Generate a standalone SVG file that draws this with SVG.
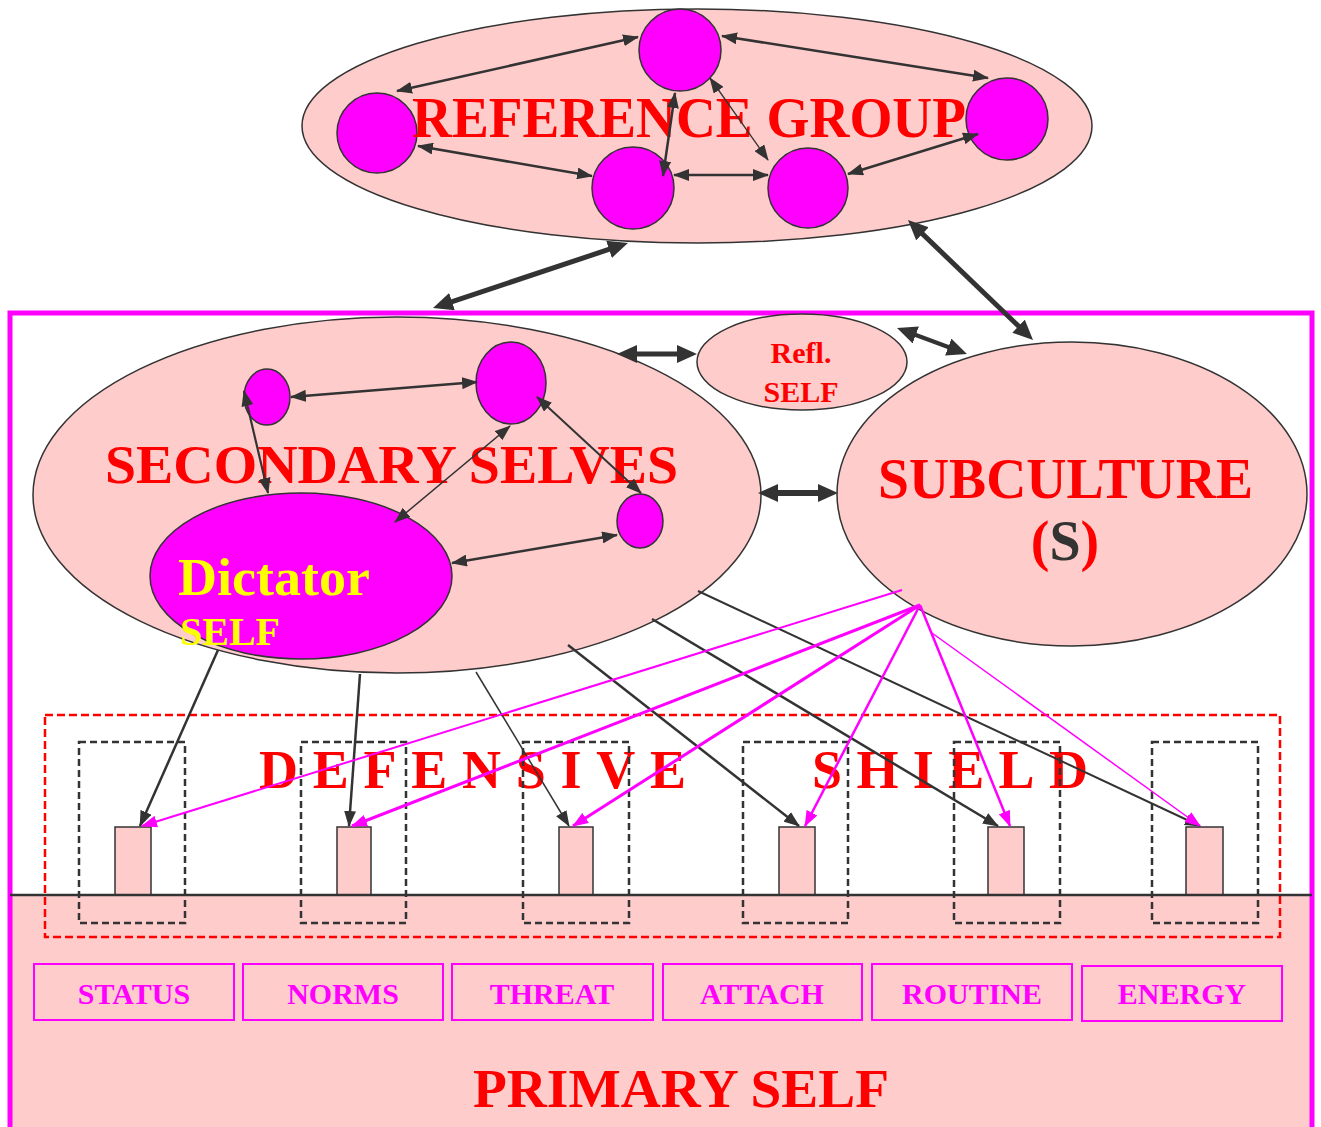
<svg xmlns="http://www.w3.org/2000/svg" width="1321" height="1127" viewBox="0 0 1321 1127">
<style>
.pk{fill:#ffcccc;stroke:#333;stroke-width:1.5}
.mg{fill:#ff00ff;stroke:#333;stroke-width:1.5}
.t{font-family:"Liberation Serif","Times New Roman",serif;font-weight:bold}
.red{fill:#ff0000}
.yel{fill:#ffff00}
.lab{fill:#ff00ff;font-size:30px;text-anchor:middle}
.ln{stroke:#333;fill:none}
.mln{stroke:#ff00ff;fill:none}
.dbl{marker-start:url(#ah);marker-end:url(#ah)}
.thk{marker-start:url(#ahT);marker-end:url(#ahT)}
.box{fill:none;stroke:#333;stroke-width:2.5;stroke-dasharray:7 4}
.lbox{fill:none;stroke:#ff00ff;stroke-width:2}
</style>
<defs>
<marker id="ah" markerUnits="userSpaceOnUse" markerWidth="16" markerHeight="12" refX="15" refY="6" orient="auto-start-reverse"><path d="M0,0 L16,6 L0,12 z" fill="#333"/></marker>
<marker id="ahT" markerUnits="userSpaceOnUse" markerWidth="20" markerHeight="18" refX="10" refY="9" orient="auto-start-reverse"><path d="M0,0 L20,9 L0,18 z" fill="#333"/></marker>
<marker id="ahM" markerUnits="userSpaceOnUse" markerWidth="16" markerHeight="12" refX="15" refY="6" orient="auto"><path d="M0,0 L16,6 L0,12 z" fill="#ff00ff"/></marker>
</defs>

<g id="primary-self">
<rect x="10" y="895" width="1302" height="240" fill="#ffcccc"/>
<rect x="10" y="313" width="1302" height="830" fill="none" stroke="#ff00ff" stroke-width="5"/>
<text class="t red" x="473" y="1107" font-size="55" textLength="416" lengthAdjust="spacingAndGlyphs">PRIMARY SELF</text>
</g>

<g id="reference-group">
<ellipse class="pk" cx="697" cy="126" rx="395" ry="117"/>
<circle class="mg" cx="680" cy="50" r="41"/>
<circle class="mg" cx="377" cy="133" r="40"/>
<circle class="mg" cx="633" cy="188" r="41"/>
<circle class="mg" cx="808" cy="188" r="40"/>
<circle class="mg" cx="1007" cy="119" r="41"/>
<text class="t red" x="412" y="137" font-size="57" textLength="554" lengthAdjust="spacingAndGlyphs">REFERENCE GROUP</text>
</g>

<g id="secondary-selves">
<ellipse class="pk" cx="397" cy="495" rx="364" ry="178"/>
<text class="t red" x="105" y="483" font-size="55" textLength="573" lengthAdjust="spacingAndGlyphs">SECONDARY SELVES</text>
<ellipse class="mg" cx="267" cy="397" rx="23" ry="28"/>
<ellipse class="mg" cx="511" cy="383" rx="35" ry="41"/>
<ellipse class="mg" cx="640" cy="521" rx="23" ry="27"/>
</g>
<g id="dictator-self">
<ellipse class="mg" cx="301" cy="576" rx="151" ry="83"/>
<text class="t yel" x="178" y="595" font-size="53" textLength="192" lengthAdjust="spacingAndGlyphs">Dictator</text>
<text class="t yel" x="180" y="645" font-size="40" textLength="100" lengthAdjust="spacingAndGlyphs">SELF</text>
</g>

<g id="refl-self">
<ellipse class="pk" cx="802" cy="362" rx="105" ry="48"/>
<text class="t red" x="801" y="363" font-size="30" text-anchor="middle">Refl.</text>
<text class="t red" x="801" y="402" font-size="30" text-anchor="middle">SELF</text>
</g>

<g id="subculture">
<ellipse class="pk" cx="1072" cy="494" rx="235" ry="152"/>
<text class="t red" x="878" y="498" font-size="56" textLength="375" lengthAdjust="spacingAndGlyphs">SUBCULTURE</text>
<text class="t red" x="1065" y="560" font-size="56" text-anchor="middle">(<tspan fill="#333">S</tspan>)</text>
</g>

<g id="defensive-shield">
<text class="t red" x="259" y="788" font-size="54" textLength="427" lengthAdjust="spacing">DEFENSIVE</text>
<text class="t red" x="812" y="788" font-size="54" textLength="276" lengthAdjust="spacing">SHIELD</text>
<rect x="45" y="715" width="1235" height="222" fill="none" stroke="#ff0000" stroke-width="2.5" stroke-dasharray="8 4"/>
<rect class="box" x="79" y="742" width="106" height="181"/>
<rect class="box" x="301" y="742" width="105" height="181"/>
<rect class="box" x="523" y="742" width="106" height="181"/>
<rect class="box" x="743" y="742" width="105" height="181"/>
<rect class="box" x="954" y="742" width="106" height="181"/>
<rect class="box" x="1152" y="742" width="106" height="181"/>
<rect class="pk" x="115" y="827" width="36" height="68"/>
<rect class="pk" x="337" y="827" width="34" height="68"/>
<rect class="pk" x="559" y="827" width="34" height="68"/>
<rect class="pk" x="779" y="827" width="36" height="68"/>
<rect class="pk" x="988" y="827" width="36" height="68"/>
<rect class="pk" x="1186" y="827" width="37" height="68"/>
<line x1="10" y1="895" x2="1312" y2="895" stroke="#333" stroke-width="2.5"/>
</g>

<g id="connectors">
<line class="ln dbl" stroke-width="2.5" x1="397" y1="91" x2="638" y2="37"/>
<line class="ln dbl" stroke-width="2.5" x1="722" y1="36" x2="988" y2="78"/>
<line class="ln dbl" stroke-width="2.5" x1="418" y1="146" x2="592" y2="176"/>
<line class="ln dbl" stroke-width="2.5" x1="675" y1="93" x2="663" y2="176"/>
<line class="ln dbl" stroke-width="1.3" x1="710" y1="78" x2="768" y2="160"/>
<line class="ln dbl" stroke-width="2.5" x1="674" y1="175" x2="768" y2="175"/>
<line class="ln dbl" stroke-width="2.5" x1="848" y1="174" x2="978" y2="134"/>

<line class="ln dbl" stroke-width="2.5" x1="291" y1="397" x2="477" y2="382"/>
<line class="ln dbl" stroke-width="2.2" x1="244" y1="391" x2="268" y2="493"/>
<line class="ln dbl" stroke-width="1.5" x1="510" y1="426" x2="395" y2="522"/>
<line class="ln dbl" stroke-width="2" x1="537" y1="397" x2="641" y2="493"/>
<line class="ln dbl" stroke-width="2.5" x1="617" y1="535" x2="452" y2="563"/>

<line class="ln thk" stroke-width="5" x1="442.5" y1="304.8" x2="618.5" y2="246.2"/>
<line class="ln thk" stroke-width="5" x1="915.2" y1="226.9" x2="1025.8" y2="333.1"/>
<line class="ln thk" stroke-width="5" x1="627" y1="354" x2="687" y2="354"/>
<line class="ln thk" stroke-width="4" x1="906.4" y1="331.5" x2="957.6" y2="350.5"/>
<line class="ln thk" stroke-width="6" x1="768" y1="493" x2="828" y2="493"/>

<line class="ln" stroke-width="2.5" marker-end="url(#ah)" x1="218" y1="650" x2="140" y2="826"/>
<line class="ln" stroke-width="2.5" marker-end="url(#ah)" x1="360" y1="674" x2="349" y2="826"/>
<line class="ln" stroke-width="1.5" marker-end="url(#ah)" x1="476" y1="672" x2="569" y2="826"/>
<line class="ln" stroke-width="2.5" marker-end="url(#ah)" x1="568" y1="645" x2="799" y2="826"/>
<line class="ln" stroke-width="2.5" marker-end="url(#ah)" x1="652" y1="619" x2="998" y2="826"/>
<line class="ln" stroke-width="2" marker-end="url(#ah)" x1="698" y1="591" x2="1200" y2="826"/>

<line class="mln" stroke-width="2" marker-end="url(#ahM)" x1="902" y1="590" x2="142" y2="826"/>
<line class="mln" stroke-width="3" marker-end="url(#ahM)" x1="920" y1="605" x2="352" y2="826"/>
<line class="mln" stroke-width="3" marker-end="url(#ahM)" x1="920" y1="605" x2="573" y2="826"/>
<line class="mln" stroke-width="2.5" marker-end="url(#ahM)" x1="920" y1="605" x2="805" y2="826"/>
<line class="mln" stroke-width="2.5" marker-end="url(#ahM)" x1="920" y1="605" x2="1010" y2="826"/>
<line class="mln" stroke-width="1.5" marker-end="url(#ahM)" x1="932" y1="633" x2="1200" y2="826"/>
</g>

<g id="label-status"><rect class="lbox" x="34" y="964" width="200" height="56"/><text class="t lab" x="134" y="1004">STATUS</text></g>
<g id="label-norms"><rect class="lbox" x="243" y="964" width="200" height="56"/><text class="t lab" x="343" y="1004">NORMS</text></g>
<g id="label-threat"><rect class="lbox" x="452" y="964" width="201" height="56"/><text class="t lab" x="552" y="1004">THREAT</text></g>
<g id="label-attach"><rect class="lbox" x="663" y="964" width="199" height="56"/><text class="t lab" x="762" y="1004">ATTACH</text></g>
<g id="label-routine"><rect class="lbox" x="872" y="964" width="200" height="56"/><text class="t lab" x="972" y="1004">ROUTINE</text></g>
<g id="label-energy"><rect class="lbox" x="1082" y="966" width="200" height="55"/><text class="t lab" x="1182" y="1004">ENERGY</text></g>
</svg>
